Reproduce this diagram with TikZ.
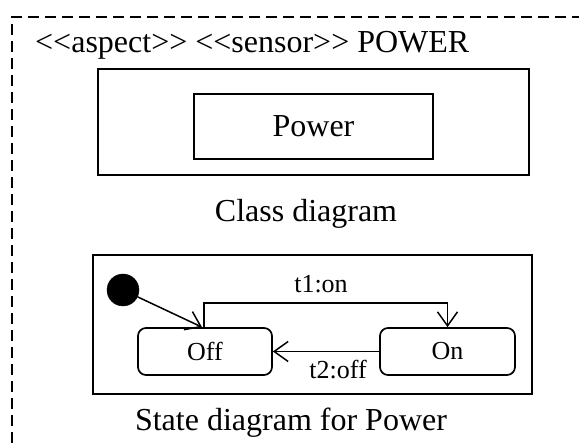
\documentclass[tikz,border=0pt]{standalone}
\usepackage{fontspec}
\setmainfont{Liberation Serif}
\usetikzlibrary{arrows.meta}
\begin{document}
\begin{tikzpicture}[x=1pt,y=-1pt,
  big/.style={font=\fontsize{32}{38}\selectfont, inner sep=0pt},
  small/.style={font=\fontsize{26}{31}\selectfont, inner sep=0pt},
  frame/.style={draw, line width=2pt, inner sep=0pt},
  statebox/.style={draw, line width=1.7pt, rounded corners=8pt, inner sep=0pt,
    minimum width=134pt, minimum height=47pt, font=\fontsize{26}{31}\selectfont},
  trans/.style={line width=1.5pt, -{Straight Barb[length=14pt,width=20pt,line width=1.5pt]}}]
\useasboundingbox (0,0) rectangle (579,443);

% package frame
\draw[line width=2.2pt, dash pattern=on 11pt off 6pt] (12,443) -- (12,17) -- (579,17);
\node[big, anchor=base west] (title) at (35,53)
  {{<}{<}aspect{>}{>} {<}{<}sensor{>}{>} POWER};

% class diagram
\node[frame, minimum width=431pt, minimum height=106pt] (classbox) at (313.5,122) {};
\node[frame, minimum width=239pt, minimum height=65pt, big] (power) at (313.5,126.5) {Power};
\node[big, anchor=base] (classcap) at (306,222) {Class diagram};

% state diagram
\node[frame, minimum width=439pt, minimum height=139pt] (statefr) at (312.5,324.5) {};
\node[circle, fill=black, draw, minimum size=32pt, inner sep=0pt] (init) at (123,290) {};
\node[statebox] (off) at (205,351.5) {Off};
\node[statebox, minimum width=135pt] (on) at (447.5,351.5) {On};
\node[big, anchor=base] (statecap) at (291,431) {State diagram for Power};

\draw[trans] (init) -- ([xshift=-3pt]off.north);
\draw[trans] ([xshift=-1pt]off.north) -- ++(0,-24) -| (on.north);
\draw[trans] (on.west) -- (off.east);
\node[small, anchor=base] (t1) at (321,293) {t1:on};
\node[small, anchor=base] (t2) at (338,379) {t2:off};
\end{tikzpicture}
\end{document}
